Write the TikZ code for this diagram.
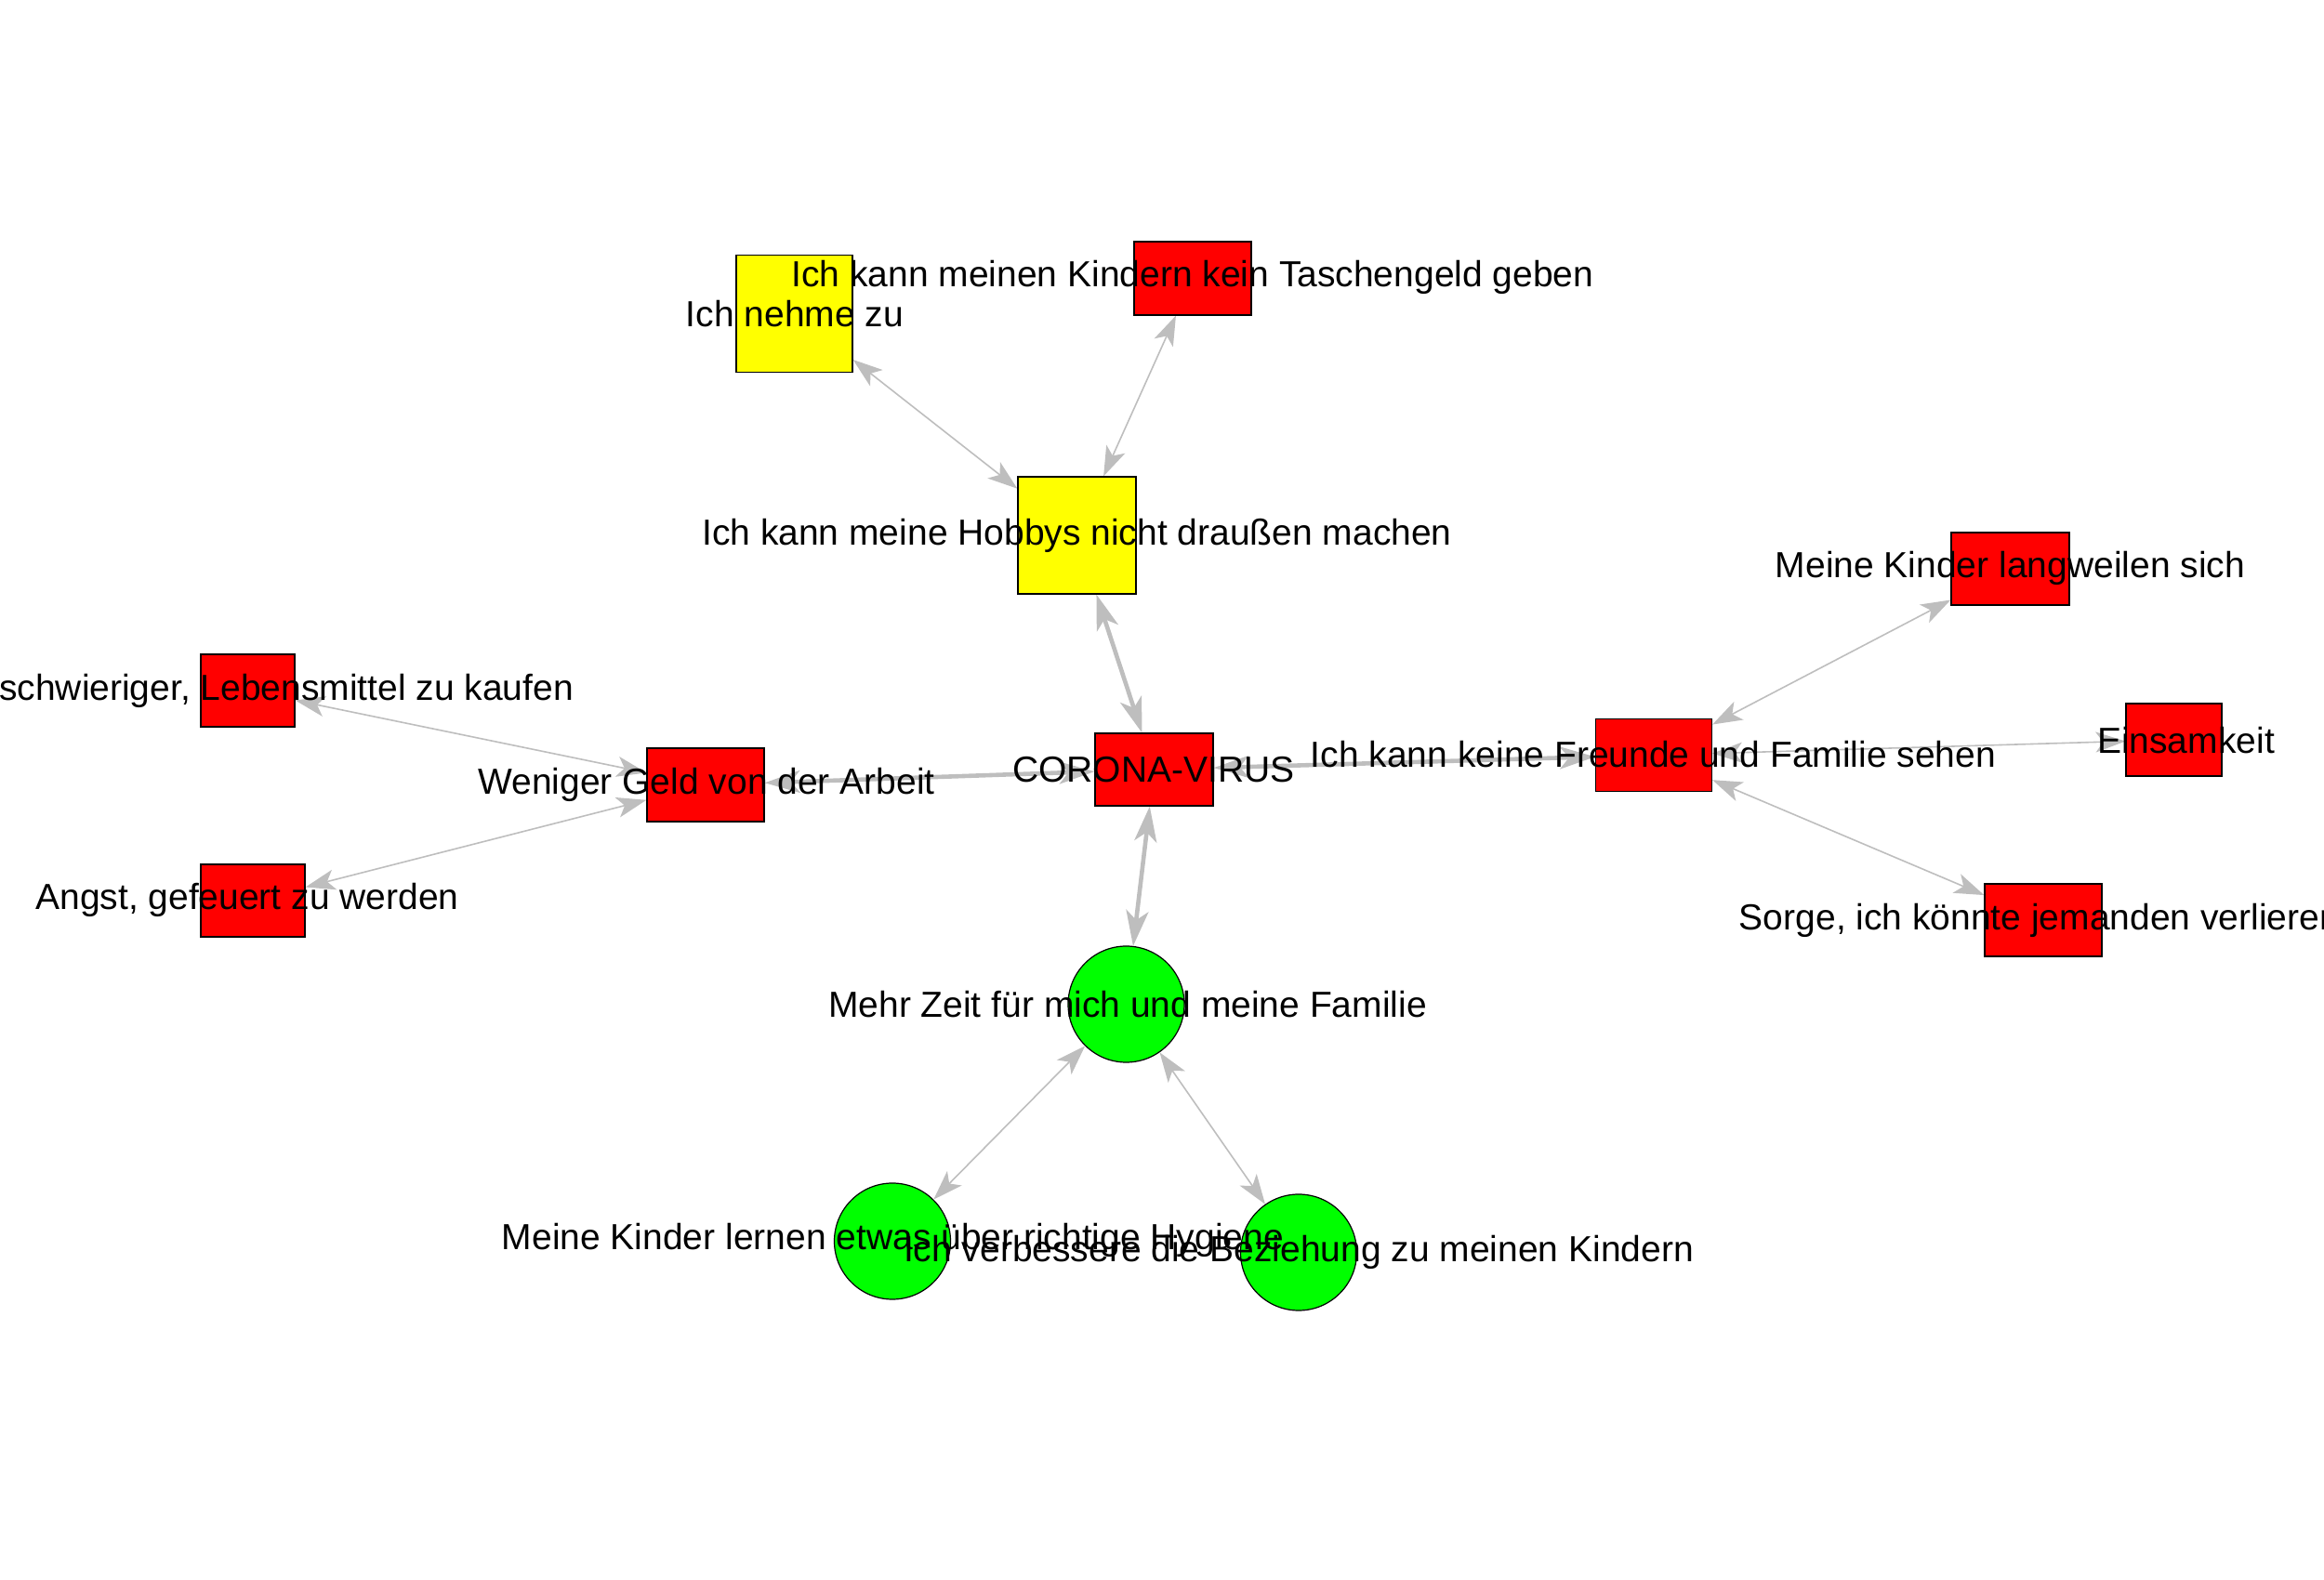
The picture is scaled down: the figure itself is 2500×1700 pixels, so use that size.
\documentclass[tikz,border=0pt]{standalone}
\usepackage{fontspec}
\setmainfont{Liberation Sans}
\usetikzlibrary{arrows.meta,backgrounds}
\definecolor{edgegray}{RGB}{190,190,190}
\definecolor{nred}{RGB}{255,0,0}
\definecolor{nyellow}{RGB}{255,255,0}
\definecolor{ngreen}{RGB}{0,255,0}
\tikzset{
  vbox/.style={rectangle, draw=black, line width=0.3pt, inner sep=0pt},
  vcirc/.style={circle, draw=black, line width=0.3pt, inner sep=0pt, minimum size=31.25pt, fill=ngreen},
  redbox/.style={vbox, fill=nred},
  yelbox/.style={vbox, fill=nyellow},
  lbl/.style={inner sep=0pt, outer sep=0pt, anchor=base, font=\fontsize{9.75}{12}\selectfont},
  thinedge/.style={draw=edgegray, line width=0.4pt,
    {Stealth[length=8pt,width=5.5pt,inset=2pt]}-{Stealth[length=8pt,width=5.5pt,inset=2pt]}},
  thickedge/.style={draw=edgegray, line width=1.15pt,
    {Stealth[length=9.5pt,width=6pt,inset=2.5pt]}-{Stealth[length=9.5pt,width=6pt,inset=2.5pt]}}
}
\begin{document}
\begin{tikzpicture}[x=0.25pt, y=-0.25pt]
\useasboundingbox (0,0) rectangle (2500,1700);
\clip (0,0) rectangle (2500,1700);
% vertices
\node[redbox, minimum width=31.75pt, minimum height=19.5pt] (corona) at (1241.5,828) {};
\node[redbox, minimum width=31.5pt, minimum height=19.75pt] (weniger) at (759,844.5) {};
\node[redbox, minimum width=31.25pt, minimum height=19.5pt] (freunde) at (1779,812.5) {};
\node[yelbox, minimum width=31.75pt, minimum height=31.5pt] (hobbys) at (1158.5,576) {};
\node[yelbox, minimum width=31.25pt, minimum height=31.5pt] (nehme) at (854.5,337.5) {};
\node[redbox, minimum width=31.5pt, minimum height=19.75pt] (tasche) at (1283,299.5) {};
\node[redbox, minimum width=31.75pt, minimum height=19.5pt] (langw) at (2162.5,612) {};
\node[redbox, minimum width=25.75pt, minimum height=19.5pt] (einsam) at (2338.5,796) {};
\node[redbox, minimum width=31.5pt, minimum height=19.5pt] (sorge) at (2198,990) {};
\node[redbox, minimum width=25.25pt, minimum height=19.5pt] (lebens) at (266.5,743) {};
\node[redbox, minimum width=28pt, minimum height=19.5pt] (angst) at (272,969) {};
\node[vcirc] (mehr) at (1211.5,1080.5) {};
\node[vcirc] (hyg) at (960,1335.5) {};
\node[vcirc] (bez) at (1397,1347.5) {};
% edges
\begin{pgfonlayer}{background}
\draw[thickedge] (corona) -- (weniger);
\draw[thickedge] (corona) -- (freunde);
\draw[thickedge] (corona) -- (hobbys);
\draw[thickedge] (corona) -- (mehr);
\draw[thinedge] (hobbys) -- (nehme);
\draw[thinedge] (hobbys) -- (tasche);
\draw[thinedge] (freunde) -- (langw);
\draw[thinedge] (freunde) -- (einsam);
\draw[thinedge] (freunde) -- (sorge);
\draw[thinedge] (weniger) -- (lebens);
\draw[thinedge] (weniger) -- (angst);
\draw[thinedge] (mehr) -- (hyg);
\draw[thinedge] (mehr) -- (bez);
\end{pgfonlayer}
% labels
\node[lbl] (tcorona) at (1241,842) {CORONA-VIRUS};
\node[lbl] (tweniger) at (760,855) {Weniger Geld von der Arbeit};
\node[lbl] (tfreunde) at (1778.5,826) {Ich kann keine Freunde und Familie sehen};
\node[lbl] (thobbys) at (1158.5,586.5) {Ich kann meine Hobbys nicht draußen machen};
\node[lbl] (tnehme) at (855,352) {Ich nehme zu};
\node[lbl] (ttasche) at (1283,309) {Ich kann meinen Kindern kein Taschengeld geben};
\node[lbl] (tlangw) at (2162.5,622) {Meine Kinder langweilen sich};
\node[lbl] (teinsam) at (2351.5,811) {Einsamkeit};
\node[lbl] (tsorge) at (2194,1001) {Sorge, ich könnte jemanden verlieren};
\node[lbl, anchor=base east] (tlebens) at (617,754) {schwieriger, Lebensmittel zu kaufen};
\node[lbl] (tangst) at (266,979) {Angst, gefeuert zu werden};
\node[lbl] (tmehr) at (1213,1095) {Mehr Zeit für mich und meine Familie};
\node[lbl] (thyg) at (960.5,1345) {Meine Kinder lernen etwas über richtige Hygiene};
\node[lbl] (tbez) at (1397,1358) {Ich verbessere die Beziehung zu meinen Kindern};
\end{tikzpicture}
\end{document}
